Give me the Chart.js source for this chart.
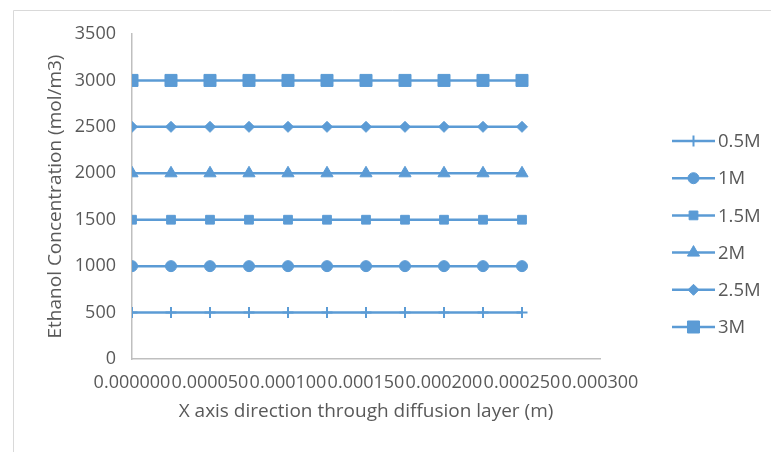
<!DOCTYPE html>
<html>
<head>
<meta charset="utf-8">
<script src="https://cdn.jsdelivr.net/npm/chart.js@4/dist/chart.umd.min.js"></script>
<style>
  html, body { margin: 0; padding: 0; background: #ffffff; }
  #wrap { position: relative; width: 771px; height: 452px; }
</style>
</head>
<body>
<div id="wrap"><canvas id="chart"></canvas></div>
<script>
// Positions across the diffusion layer (m)
const xPositions = [0, 0.000025, 0.00005, 0.000075, 0.0001, 0.000125, 0.00015, 0.000175, 0.0002, 0.000225, 0.00025];

// Ethanol concentration (mol/m3) for each feed concentration
const seriesNames = ['0.5M', '1M', '1.5M', '2M', '2.5M', '3M'];
const conc05 = [500, 500, 500, 500, 500, 500, 500, 500, 500, 500, 500];
const conc10 = [1000, 1000, 1000, 1000, 1000, 1000, 1000, 1000, 1000, 1000, 1000];
const conc15 = [1500, 1500, 1500, 1500, 1500, 1500, 1500, 1500, 1500, 1500, 1500];
const conc20 = [2000, 2000, 2000, 2000, 2000, 2000, 2000, 2000, 2000, 2000, 2000];
const conc25 = [2500, 2500, 2500, 2500, 2500, 2500, 2500, 2500, 2500, 2500, 2500];
const conc30 = [3000, 3000, 3000, 3000, 3000, 3000, 3000, 3000, 3000, 3000, 3000];

// Axis ranges
const xMin = 0, xMax = 0.0003, xStep = 0.00005;
const yMin = 0, yMax = 3500, yStep = 500;

const seriesValues = [conc05, conc10, conc15, conc20, conc25, conc30];
const markerStyles = ['cross', 'circle', 'rect', 'triangle', 'rectRot', 'rect'];
const markerRadii = [5.5, 5.5, 6.2, 7, 5.5, 8.5];

const BLUE = '#5B9BD5';
const TEXT = '#595959';
const FONT = '"Open Sans", "Liberation Sans", sans-serif';
const TICK_SIZE = 18;
const TITLE_SIZE = 19;

const datasets = seriesNames.map((name, i) => ({
  label: name,
  data: xPositions.map((x, j) => ({ x: x, y: seriesValues[i][j] })),
  borderColor: BLUE,
  backgroundColor: BLUE,
  borderWidth: 2.5,
  pointStyle: markerStyles[i],
  pointRadius: markerRadii[i],
  pointHoverRadius: markerRadii[i],
  pointBorderWidth: markerStyles[i] === 'cross' ? 2 : 1,
  pointBorderColor: BLUE,
  pointBackgroundColor: BLUE,
  tension: 0,
  fill: false
}));

// Frame lines and a white background
const framePlugin = {
  id: 'frame',
  beforeDraw(chart) {
    const ctx = chart.ctx;
    ctx.save();
    ctx.fillStyle = '#ffffff';
    ctx.fillRect(0, 0, chart.width, chart.height);
    ctx.strokeStyle = '#D9D9D9';
    ctx.lineWidth = 1;
    ctx.beginPath();
    ctx.moveTo(13.5, chart.height);
    ctx.lineTo(13.5, 10.5);
    ctx.lineTo(chart.width, 10.5);
    ctx.stroke();
    ctx.restore();
  }
};

// Legend with a line segment through each marker
const lineLegendPlugin = {
  id: 'lineLegend',
  afterDraw(chart) {
    const ctx = chart.ctx;
    const area = chart.chartArea;
    const x0 = area.right + 72;
    const lineLen = 43;
    const top = 141;
    const gap = 37.2;
    ctx.save();
    chart.data.datasets.forEach((ds, i) => {
      const y = top + i * gap;
      ctx.strokeStyle = ds.borderColor;
      ctx.lineWidth = ds.borderWidth;
      ctx.beginPath();
      ctx.moveTo(x0, y);
      ctx.lineTo(x0 + lineLen, y);
      ctx.stroke();
      ctx.fillStyle = ds.pointBackgroundColor;
      ctx.strokeStyle = ds.pointBorderColor;
      ctx.lineWidth = ds.pointBorderWidth;
      Chart.helpers.drawPoint(ctx, { pointStyle: ds.pointStyle, radius: ds.pointRadius, rotation: 0, borderWidth: ds.pointBorderWidth }, x0 + lineLen / 2, y);
      ctx.fillStyle = TEXT;
      ctx.font = '18.5px ' + FONT;
      ctx.textAlign = 'left';
      ctx.textBaseline = 'middle';
      ctx.fillText(ds.label, x0 + lineLen + 3, y + 1);
    });
    ctx.restore();
  }
};

new Chart(document.getElementById('chart'), {
  type: 'line',
  data: { datasets: datasets },
  options: {
    responsive: true,
    maintainAspectRatio: false,
    animation: false,
    layout: { padding: { left: 40, top: 34, right: 171, bottom: 25 } },
    plugins: {
      legend: { display: false },
      tooltip: { enabled: false }
    },
    scales: {
      x: {
        type: 'linear',
        min: xMin,
        max: xMax,
        afterFit(scale) { scale.height = 68; },
        ticks: {
          stepSize: xStep,
          autoSkip: false,
          maxRotation: 0,
          minRotation: 0,
          padding: 13,
          color: TEXT,
          font: { family: FONT, size: TICK_SIZE },
          callback: (v) => Number(v).toFixed(6)
        },
        grid: { drawOnChartArea: false, drawTicks: false },
        border: { display: true, color: '#BFBFBF', width: 1.5 },
        title: {
          display: true,
          text: 'X axis direction through diffusion layer (m)',
          color: TEXT,
          font: { family: FONT, size: TITLE_SIZE },
          padding: { top: 4, bottom: 4 }
        }
      },
      y: {
        type: 'linear',
        min: yMin,
        max: yMax,
        afterFit(scale) { scale.width = 92; },
        ticks: {
          stepSize: yStep,
          padding: 16,
          color: TEXT,
          font: { family: FONT, size: TICK_SIZE },
          callback: (v) => String(v)
        },
        grid: { drawOnChartArea: false, drawTicks: false },
        border: { display: true, color: '#BFBFBF', width: 1.5 },
        title: {
          display: true,
          text: 'Ethanol Concentration (mol/m3)',
          color: TEXT,
          font: { family: FONT, size: TITLE_SIZE },
          padding: { top: 4, bottom: 4 }
        }
      }
    }
  },
  plugins: [framePlugin, lineLegendPlugin]
});
</script>
</body>
</html>
